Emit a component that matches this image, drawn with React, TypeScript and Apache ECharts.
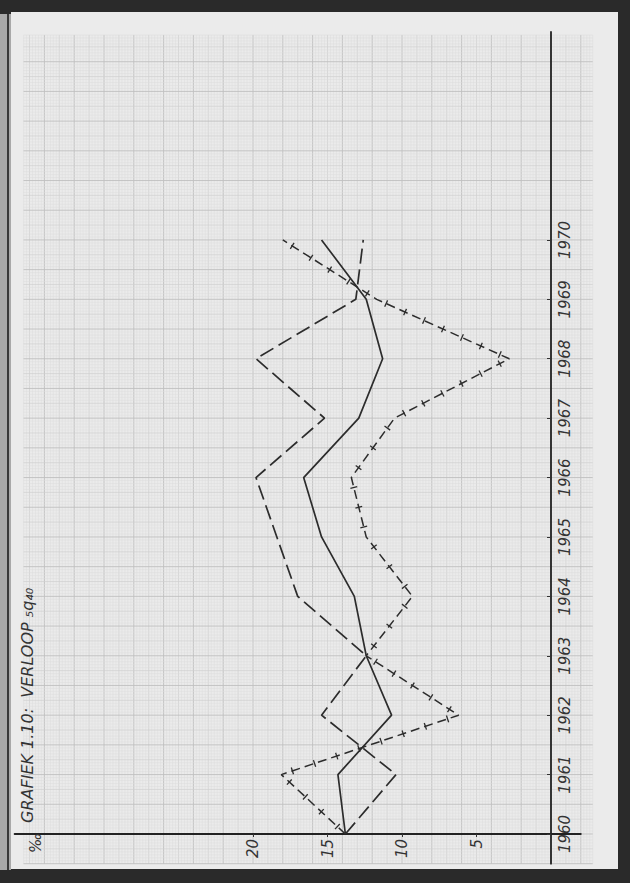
import React, { useEffect, useRef } from "react";
import * as echarts from "echarts";

// Years on the (vertical) category direction
const years = [1960, 1961, 1962, 1963, 1964, 1965, 1966, 1967, 1968, 1969, 1970];
// Series values in per mille
const solidValues = [13.8, 14.3, 10.7, 12.4, 13.2, 15.4, 16.6, 12.9, 11.3, 12.4, 15.4];
const longDashValues = [13.8, 10.4, 15.4, 12.4, 17.0, 18.4, 19.8, 15.2, 19.8, 13.1, 12.6];
const crossValues = [13.8, 18.1, 6.2, 12.4, 9.3, 12.4, 13.4, 10.5, 2.8, 11.7, 18.0];
// Tick labels on the value axis
const valueTicks = [5, 10, 15, 20];

const TITLE = "GRAFIEK 1.10:  VERLOOP ₅q₄₀";
const UNIT = "‰";

const INK = "#2c2c2c";
const FONT = "DejaVu Sans";

export default function App() {
  const ref = useRef<HTMLDivElement>(null);

  useEffect(() => {
    const chart = echarts.init(ref.current as HTMLDivElement, null, { renderer: "svg" });
    const toData = (vals: number[]) => vals.map((v, i) => [v, years[i]]);

    const gridStyle = (major: boolean, mid: boolean) => ({
      stroke: major ? "#c0c0c0" : mid ? "#d0d0d0" : "#dddddd",
      lineWidth: major ? 0.9 : mid ? 0.7 : 0.5,
    });

    const paperSeries: any = {
      type: "custom",
      name: "paper",
      silent: true,
      clip: false,
      z: 1,
      data: [[0, 1960]],
      renderItem: (_params: any, api: any) => {
        const children: any[] = [];
        const yLo = 1959.5;
        const yHi = 1959.5 + 279 * 0.05;
        for (let m = -14; m <= 177; m++) {
          const v = m * 0.2;
          const r = ((m % 10) + 10) % 10;
          const a = api.coord([v, yLo]);
          const b = api.coord([v, yHi]);
          children.push({
            type: "line",
            shape: { x1: a[0], y1: a[1], x2: b[0], y2: b[1] },
            style: gridStyle(r === 0, r === 5),
          });
        }
        for (let n = 0; n <= 279; n++) {
          const yr = 1959.5 + n * 0.05;
          const r = n % 10;
          const a = api.coord([-2.8, yr]);
          const b = api.coord([35.4, yr]);
          children.push({
            type: "line",
            shape: { x1: a[0], y1: a[1], x2: b[0], y2: b[1] },
            style: gridStyle(r === 0, r === 5),
          });
        }
        return { type: "group", children };
      },
    };

    const crossTicks: any = {
      type: "custom",
      name: "crossTicks",
      silent: true,
      clip: false,
      z: 7,
      data: toData(crossValues),
      renderItem: (params: any, api: any) => {
        const i = params.dataIndex;
        if (i === 0) return { type: "group", children: [] };
        const a = api.coord([crossValues[i - 1], years[i - 1]]);
        const b = api.coord([crossValues[i], years[i]]);
        const dx = b[0] - a[0];
        const dy = b[1] - a[1];
        const L = Math.hypot(dx, dy);
        const n = Math.max(1, Math.round(L / 22));
        const ux = dx / L;
        const uy = dy / L;
        const px = -uy;
        const py = ux;
        const h = 3.5;
        const children: any[] = [];
        for (let j = 0; j < n; j++) {
          const t = ((j + 0.5) / n) * L;
          const cx = a[0] + ux * t;
          const cy = a[1] + uy * t;
          children.push({
            type: "line",
            shape: { x1: cx - px * h, y1: cy - py * h, x2: cx + px * h, y2: cy + py * h },
            style: { stroke: INK, lineWidth: 1.3 },
          });
        }
        return { type: "group", children };
      },
    };

    const labelStyle = {
      fontSize: 15,
      fontStyle: "italic" as const,
      fontFamily: FONT,
      color: "#333",
    };

    const option: any = {
      animation: false,
      backgroundColor: "#2a2a2a",
      grid: { left: 14.6, right: 49.2, top: 32, bottom: 19.3, containLabel: false },
      xAxis: {
        type: "value",
        inverse: true,
        min: -2,
        max: 36,
        position: "bottom",
        offset: -29.7,
        z: 5,
        axisLine: { show: true, onZero: false, lineStyle: { color: "#222", width: 1.8 } },
        axisTick: { show: true, customValues: valueTicks, length: 3, lineStyle: { color: "#333" } },
        axisLabel: { ...labelStyle, customValues: valueTicks, rotate: 90, margin: 5 },
        splitLine: { show: false },
      },
      yAxis: {
        type: "value",
        min: 1959.5,
        max: 1973.5,
        position: "right",
        offset: -29.8,
        z: 5,
        axisLine: { show: true, onZero: false, lineStyle: { color: "#222", width: 1.8 } },
        axisTick: { show: true, inside: true, customValues: years, length: 4, lineStyle: { color: "#333" } },
        axisLabel: {
          ...labelStyle,
          customValues: years,
          rotate: 90,
          margin: 6,
          formatter: (v: number) => String(v),
        },
        splitLine: { show: false },
      },
      graphic: [
        { type: "rect", z: -10, shape: { x: 0, y: 14, width: 11, height: 856 }, style: { fill: "#a9a9a9" } },
        { type: "rect", z: -10, shape: { x: 7, y: 14, width: 2, height: 856 }, style: { fill: "#3a3a3a" } },
        { type: "rect", z: -9, shape: { x: 11, y: 12, width: 607, height: 857 }, style: { fill: "#ebebeb" } },
        {
          type: "text",
          z: 20,
          x: 27,
          y: 823,
          rotation: Math.PI / 2,
          style: {
            text: TITLE,
            fontSize: 16,
            fontStyle: "italic",
            fontFamily: FONT,
            fill: "#333",
            align: "left",
            verticalAlign: "middle",
          },
        },
        {
          type: "text",
          z: 20,
          x: 36,
          y: 853,
          rotation: Math.PI / 2,
          style: {
            text: UNIT,
            fontSize: 15,
            fontStyle: "italic",
            fontFamily: FONT,
            fill: "#333",
            align: "left",
            verticalAlign: "middle",
          },
        },
      ],
      series: [
        paperSeries,
        {
          type: "line",
          name: "doorlopend",
          z: 6,
          symbol: "none",
          data: toData(solidValues),
          lineStyle: { color: INK, width: 1.7, type: "solid" },
        },
        {
          type: "line",
          name: "lang gestreept",
          z: 6,
          symbol: "none",
          data: toData(longDashValues),
          lineStyle: { color: INK, width: 1.7, type: [15, 6] },
        },
        {
          type: "line",
          name: "gestreept met kruisjes",
          z: 6,
          symbol: "none",
          data: toData(crossValues),
          lineStyle: { color: INK, width: 1.5, type: [9, 5] },
        },
        crossTicks,
      ],
    };

    chart.setOption(option);
    return () => chart.dispose();
  }, []);

  return (
    <div
      ref={ref}
      style={{ position: "fixed", left: 0, top: 0, width: 630, height: 883 }}
    />
  );
}
